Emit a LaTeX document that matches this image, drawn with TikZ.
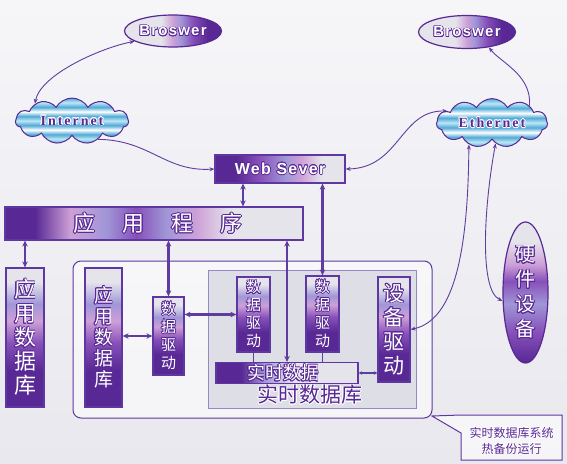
\documentclass[tikz,border=0pt]{standalone}
\usepackage{fontspec}
\setmainfont{Liberation Serif}
\newfontfamily\cjk{Noto Sans CJK SC}
\newfontfamily\hvb{Liberation Sans}[LetterSpace=8]
\newfontfamily\tmb{Liberation Serif}[LetterSpace=14]
\usepackage[copies]{contour}
\contourlength{0.6pt}
\usetikzlibrary{shapes.geometric,shapes.symbols,arrows.meta,calc}
\pgfdeclarelayer{back}
\pgfdeclarelayer{mid}
\pgfsetlayers{back,mid,main}
\definecolor{dp}{RGB}{88,40,148}
\definecolor{mp}{RGB}{135,80,185}
\definecolor{lav}{RGB}{160,150,215}
\definecolor{pk}{RGB}{205,160,215}
\definecolor{gr}{RGB}{228,228,234}
\definecolor{bd}{RGB}{95,55,160}
\definecolor{ln}{RGB}{95,60,160}
\definecolor{bgc}{RGB}{232,232,238}
\definecolor{bgt}{RGB}{246,246,249}
\definecolor{cl1}{RGB}{190,230,245}
\definecolor{cl2}{RGB}{80,170,215}
\definecolor{inbg}{RGB}{222,222,230}
\definecolor{inbd}{RGB}{150,135,195}
\pgfdeclarehorizontalshading{hweb}{100bp}{color(0bp)=(dp);color(25bp)=(dp);color(33bp)=(dp);color(42bp)=(mp);color(52bp)=(lav);color(58bp)=(pk);color(66bp)=(gr);color(100bp)=(gr)}
\pgfdeclarehorizontalshading{happ}{100bp}{color(0bp)=(dp);color(25bp)=(dp);color(30bp)=(dp);color(36bp)=(pk);color(42bp)=(lav);color(47bp)=(mp);color(52bp)=(lav);color(57bp)=(pk);color(63bp)=(gr);color(100bp)=(gr)}
\pgfdeclarehorizontalshading{hrtd}{100bp}{color(0bp)=(dp);color(25bp)=(dp);color(34bp)=(dp);color(42bp)=(lav);color(52bp)=(gr);color(100bp)=(gr)}
\pgfdeclarehorizontalshading{hbr}{100bp}{color(0bp)=(gr);color(25bp)=(gr);color(44bp)=(gr);color(50bp)=(pk);color(54bp)=(lav);color(60bp)=(mp);color(68bp)=(dp);color(100bp)=(dp)}
\pgfdeclareverticalshading{vbar}{100bp}{color(0bp)=(dp);color(25bp)=(dp);color(38bp)=(dp);color(48bp)=(mp);color(56bp)=(pk);color(62bp)=(lav);color(70bp)=(gr);color(100bp)=(gr)}
\pgfdeclareverticalshading{vhw}{100bp}{color(0bp)=(dp);color(25bp)=(dp);color(36bp)=(mp);color(46bp)=(lav);color(54bp)=(mp);color(60bp)=(pk);color(68bp)=(gr);color(100bp)=(gr)}
\pgfdeclareverticalshading{vcloud}{100bp}{color(0bp)=(cl2);color(25bp)=(cl2);color(30bp)=(cl1);color(35bp)=(cl2);color(40bp)=(white);color(45bp)=(cl2);color(50bp)=(cl1);color(55bp)=(cl2);color(60bp)=(white);color(65bp)=(cl2);color(70bp)=(cl1);color(75bp)=(cl2);color(100bp)=(cl2)}
\newcommand\ow[1]{\contour{dp}{#1}}
\newcommand\pw[1]{\contour{white}{#1}}
\tikzset{
  bx/.style={draw=bd,line width=1.2pt,inner sep=0pt,rectangle,text=white},
  vbox/.style={bx,shade,shading=vbar,align=center},
  cld/.style={cloud,cloud puffs=11,cloud puff arc=120,aspect=2.7,draw=dp,line width=1pt,shade,shading=vcloud,inner sep=0pt,text=dp},
  brw/.style={ellipse,draw=dp,line width=1.2pt,shade,shading=hbr,inner sep=0pt,text=white},
  lk/.style={draw=ln,line width=0.9pt},
  dbl/.style={lk,{Stealth[length=5pt,width=4pt]}-{Stealth[length=5pt,width=4pt]}},
  one/.style={lk,-{Stealth[length=5pt,width=4pt]}},
  thk/.style={line width=2.2pt,{Stealth[length=6pt,width=5.5pt]}-{Stealth[length=6pt,width=5.5pt]}},
}
\begin{document}
\begin{tikzpicture}[x=1pt,y=-1pt]
\useasboundingbox (0,0) rectangle (567,463);
\begin{pgfonlayer}{back}
\shade[top color=bgt,bottom color=bgc] (0,0) rectangle (567,463);
% containers
\node[draw=bd,line width=1pt,rounded corners=8pt,fill=white,fill opacity=0.55,draw opacity=1,minimum width=359pt,minimum height=157pt,inner sep=0pt] (sys) at (252.5,339.5) {};
\node[draw=inbd,line width=0.8pt,fill=inbg,minimum width=208pt,minimum height=138pt,inner sep=0pt] (rtdb) at (312,339) {};
\node[text=dp,font=\cjk\fontsize{21}{21}\selectfont] (rtdbl) at (310,395) {\pw{实时数据库}};
% callout note
\draw[draw=bd,line width=1pt,fill=white,fill opacity=0.6,draw opacity=1] (461,415) -- (562,415) -- (562,460) -- (461,460) -- (461,433) -- (432,416) -- cycle;
\end{pgfonlayer}
\node[text=dp,align=center,font=\cjk\fontsize{12}{16}\selectfont] (note) at (511.5,441) {\pw{实时数据库系统}\\\pw{热备份运行}};

% top nodes
\node[brw,minimum width=97pt,minimum height=32pt,font=\hvb\bfseries\fontsize{15}{15}\selectfont] (brL) at (173,31) {\ow{Broswer}};
\node[brw,minimum width=97pt,minimum height=33pt,font=\hvb\bfseries\fontsize{15}{15}\selectfont] (brR) at (467,32) {\ow{Broswer}};
\node[cld,minimum width=113pt,minimum height=42pt,font=\tmb\bfseries\fontsize{14}{14}\selectfont] (inet) at (72,121) {\pw{Internet}};
\node[cld,minimum width=111pt,minimum height=41pt,font=\tmb\bfseries\fontsize{14}{14}\selectfont] (eth) at (492,123) {\pw{Ethernet}};
\node[bx,shade,shading=hweb,minimum width=130pt,minimum height=28pt,font=\hvb\bfseries\fontsize{16}{16}\selectfont] (web) at (280,169) {\ow{Web Sever}};
\node[bx,shade,shading=happ,minimum width=298pt,minimum height=33pt,font=\cjk\fontsize{22}{22}\selectfont] (app) at (154,223.5) {\hspace{8pt}\ow{应}\hspace{27pt}\ow{用}\hspace{27pt}\ow{程}\hspace{27pt}\ow{序}};

% boxes
\node[vbox,minimum width=38pt,minimum height=139pt,font=\cjk\fontsize{22}{24}\selectfont] (adbL) at (25,337.5) {\ow{应}\\\ow{用}\\\ow{数}\\\ow{据}\\\ow{库}};
\node[vbox,minimum width=37pt,minimum height=139pt,font=\cjk\fontsize{19}{21}\selectfont] (adbI) at (103.5,337.5) {\ow{应}\\\ow{用}\\\ow{数}\\\ow{据}\\\ow{库}};
\node[vbox,minimum width=31pt,minimum height=78pt,font=\cjk\fontsize{15}{18}\selectfont] (ddL) at (168.5,336) {\ow{数}\\\ow{据}\\\ow{驱}\\\ow{动}};
\node[vbox,minimum width=33pt,minimum height=75pt,font=\cjk\fontsize{15}{18}\selectfont] (ddM) at (253.5,314.5) {\ow{数}\\\ow{据}\\\ow{驱}\\\ow{动}};
\node[vbox,minimum width=33pt,minimum height=76pt,font=\cjk\fontsize{15}{18}\selectfont] (ddR) at (322.5,314) {\ow{数}\\\ow{据}\\\ow{驱}\\\ow{动}};
\node[vbox,minimum width=32pt,minimum height=105pt,font=\cjk\fontsize{21}{24}\selectfont] (sbqd) at (394,329.5) {\ow{设}\\\ow{备}\\\ow{驱}\\\ow{动}};
\node[bx,shade,shading=hrtd,minimum width=142pt,minimum height=21pt,font=\cjk\fontsize{18}{18}\selectfont] (rtd) at (287,373) {\hspace{-8pt}\ow{实时数据}};
\node[ellipse,draw=dp,line width=1.2pt,shade,shading=vhw,inner sep=0pt,text=white,minimum width=45pt,minimum height=141pt,align=center,font=\cjk\fontsize{20}{25}\selectfont] (hw) at (525.5,292.5) {\ow{硬}\\\ow{件}\\\ow{设}\\\ow{备}};

% connectors
\begin{pgfonlayer}{mid}
\draw[dbl] (brL.195) .. controls (100,48) and (40,75) .. (inet.155);
\draw[one] (inet.-35) .. controls (150,140) and (165,172) .. (web.west);
\draw[dbl] (eth.165) .. controls (400,110) and (400,168) .. (web.east);
\draw[one] (eth.25) .. controls (532,75) and (500,62) .. (brR.-35);
\draw[dbl] (eth.-137) .. controls (468,250) and (455,320) .. (sbqd.east);
\draw[dbl] (eth.-80) .. controls (485,200) and (478,290) .. (hw.200);

\draw[lk,thk] (243,0 |- web.south) -- (243,0 |- app.north);
\draw[lk,thk] (ddR.north |- web.south) -- (ddR.north);
\draw[lk,thk] (rtd.north |- app.south) -- (rtd.north);
\draw[lk,thk] (adbL.north |- app.south) -- (adbL.north);
\draw[lk,thk] (ddL.north |- app.south) -- (ddL.north);
\draw[lk,thk] (adbI.east |- ddL.west) -- (ddL.west);
\draw[lk,thk] (ddL.east |- ddM.west) -- (ddM.west);
\draw[lk,line width=1.6pt] (ddM.south) -- (ddM.south |- rtd.north);
\draw[lk,line width=1.6pt] (ddR.south) -- (ddR.south |- rtd.north);
\draw[lk,line width=1.2pt,{Stealth[length=3.5pt,width=3.5pt]}-{Stealth[length=3.5pt,width=3.5pt]}] (rtd.east) -- (sbqd.west |- rtd.east);
\end{pgfonlayer}
\end{tikzpicture}
\end{document}
